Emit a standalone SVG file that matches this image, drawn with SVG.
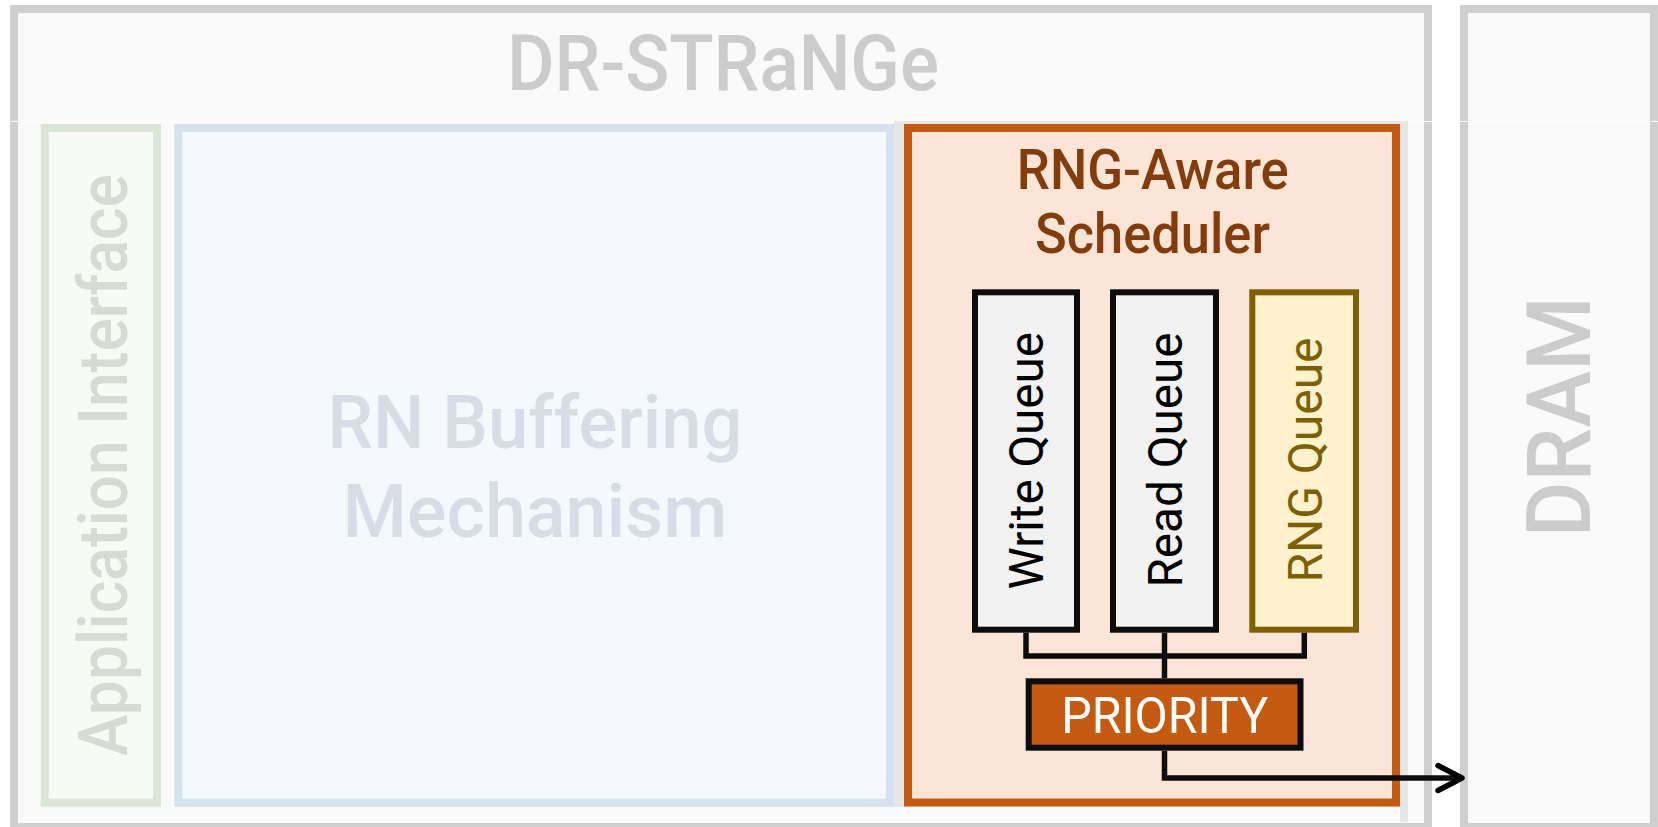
<svg xmlns="http://www.w3.org/2000/svg" width="1658" height="827" viewBox="0 0 1658 827">
  <style>
    .t { font-family: Roboto, "Liberation Sans", sans-serif; }
    .frame { fill: #fafafa; stroke: #cfcfcf; stroke-width: 8; }
    .queue { stroke-width: 6; }
    .wire { fill: none; stroke: #0d0d0d; stroke-width: 5.5; }
  </style>
  <rect width="1658" height="827" fill="#ffffff"/>

  <!-- DR-STRaNGe controller frame -->
  <g id="dr-strange">
    <rect class="frame" x="14" y="9" width="1414" height="818"/>
    <text class="t" x="723" y="90" font-size="77" font-weight="500" fill="#cccccc" text-anchor="middle" textLength="432" lengthAdjust="spacingAndGlyphs">DR-STRaNGe</text>
  </g>

  <!-- DRAM frame -->
  <g id="dram">
    <rect class="frame" x="1464" y="9" width="190" height="818"/>
    <text class="t" transform="translate(1590 416.7) rotate(-90)" x="0" y="0" font-size="89" font-weight="500" fill="#cccccc" text-anchor="middle" textLength="241" lengthAdjust="spacingAndGlyphs">DRAM</text>
  </g>

  <!-- tile seam across both frames -->
  <line x1="10" y1="121.5" x2="1658" y2="121.5" stroke="#ffffff" stroke-width="1"/>

  <!-- Application Interface -->
  <g id="app-interface">
    <rect x="44.7" y="128" width="112.3" height="674.7" fill="#f8faf6" stroke="#dce6d6" stroke-width="8"/>
    <text class="t" transform="translate(126.7 465) rotate(-90)" font-size="68" font-weight="500" fill="#d7dbd4" text-anchor="middle" textLength="582" lengthAdjust="spacingAndGlyphs">Application Interface</text>
  </g>

  <!-- RN Buffering Mechanism -->
  <g id="rn-buffering">
    <rect x="178.3" y="128" width="711.7" height="674.7" fill="#f5f9fd" stroke="#d5e2f0" stroke-width="8"/>
    <text class="t" x="535" y="448.3" font-size="75" font-weight="500" fill="#d6dde6" text-anchor="middle" textLength="415" lengthAdjust="spacingAndGlyphs">RN Buffering</text>
    <text class="t" x="535" y="536.7" font-size="75" font-weight="500" fill="#d6dde6" text-anchor="middle" textLength="385" lengthAdjust="spacingAndGlyphs">Mechanism</text>
  </g>

  <!-- RNG-Aware Scheduler -->
  <g id="scheduler">
    <rect x="894" y="121" width="514" height="686" fill="#e7e7e7"/>
    <rect x="1400" y="121" width="8" height="701" fill="#e7e7e7"/>
    <rect x="908" y="128" width="488" height="674.5" fill="#fbe5d6" stroke="#c55a11" stroke-width="8"/>
    <text class="t" x="1152.8" y="189.3" font-size="55" font-weight="500" fill="#843c0c" text-anchor="middle" textLength="272" lengthAdjust="spacingAndGlyphs">RNG-Aware</text>
    <text class="t" x="1152.5" y="253.3" font-size="55" font-weight="500" fill="#843c0c" text-anchor="middle" textLength="235" lengthAdjust="spacingAndGlyphs">Scheduler</text>
  </g>

  <g id="write-queue">
    <rect class="queue" x="975" y="292.3" width="102" height="337.4" fill="#f2f2f2" stroke="#0d0d0d"/>
    <text class="t" transform="translate(1043.3 460.8) rotate(-90)" font-size="48" fill="#000000" text-anchor="middle" textLength="257.5" lengthAdjust="spacingAndGlyphs">Write Queue</text>
  </g>

  <g id="read-queue">
    <rect class="queue" x="1113" y="292.3" width="103" height="337.4" fill="#f2f2f2" stroke="#0d0d0d"/>
    <text class="t" transform="translate(1181.7 460) rotate(-90)" font-size="48" fill="#000000" text-anchor="middle" textLength="255" lengthAdjust="spacingAndGlyphs">Read Queue</text>
  </g>

  <g id="rng-queue">
    <rect class="queue" x="1252.3" y="292.3" width="103.7" height="337.4" fill="#fff2cc" stroke="#7f6000"/>
    <text class="t" transform="translate(1321.7 460) rotate(-90)" font-size="48" fill="#7f6000" text-anchor="middle" textLength="245" lengthAdjust="spacingAndGlyphs">RNG Queue</text>
  </g>

  <g id="priority">
    <rect x="1028.7" y="681.3" width="271.8" height="66.4" fill="#c55a11" stroke="#0d0d0d" stroke-width="6"/>
    <text class="t" x="1164.7" y="732.7" font-size="50.6" fill="#ffffff" text-anchor="middle" textLength="207" lengthAdjust="spacingAndGlyphs">PRIORITY</text>
  </g>

  <!-- connectors -->
  <g id="connectors">
    <polyline class="wire" points="1026,632.7 1026,656 1304.3,656 1304.3,632.7"/>
    <line class="wire" x1="1164.5" y1="632.7" x2="1164.5" y2="678.3"/>
    <polyline class="wire" points="1164.5,750.7 1164.5,778 1461,778"/>
    <polyline points="1438,765.5 1462,778 1438,790.5" fill="none" stroke="#000000" stroke-width="5.5" stroke-linecap="round" stroke-linejoin="round"/>
  </g>
</svg>
